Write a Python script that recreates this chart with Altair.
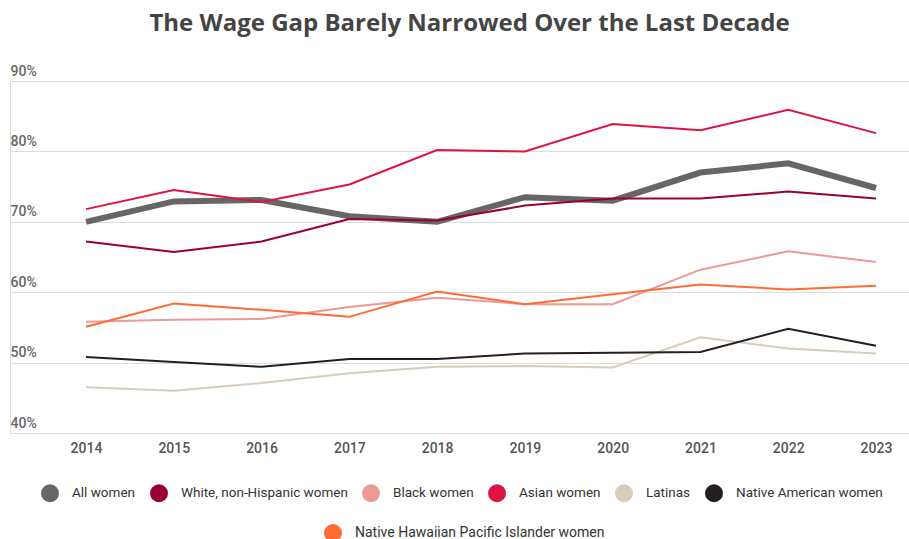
import altair as alt
import pandas as pd

years = list(range(2014, 2024))
all_women = [70.0, 72.9, 73.1, 70.8, 70.0, 73.5, 73.0, 77.0, 78.3, 74.8]
white = [67.2, 65.7, 67.2, 70.4, 70.2, 72.3, 73.3, 73.3, 74.3, 73.3]
black = [55.8, 56.1, 56.2, 57.9, 59.2, 58.3, 58.3, 63.2, 65.8, 64.3]
asian = [71.8, 74.5, 72.8, 75.3, 80.2, 80.0, 83.9, 83.0, 85.9, 82.6]
latinas = [46.5, 46.0, 47.1, 48.5, 49.4, 49.5, 49.3, 53.6, 52.0, 51.3]
native_am = [50.8, 50.1, 49.4, 50.5, 50.5, 51.3, 51.4, 51.5, 54.8, 52.4]
nhpi = [55.1, 58.4, 57.5, 56.5, 60.1, 58.3, 59.7, 61.1, 60.4, 60.9]

main_groups = ["All women", "White, non-Hispanic women", "Black women",
               "Asian women", "Latinas", "Native American women"]
main_colors = ["#666666", "#990033", "#eb9a98", "#dc1446", "#d8cdbd", "#231f20"]
nhpi_name = "Native Hawaiian Pacific Islander women"
nhpi_color = "#ff6b35"
y_ticks = [40, 50, 60, 70, 80, 90]

series = {
    "All women": all_women,
    "White, non-Hispanic women": white,
    "Black women": black,
    "Asian women": asian,
    "Latinas": latinas,
    "Native American women": native_am,
    nhpi_name: nhpi,
}
rows = []
for g, vals in series.items():
    for yr, v in zip(years, vals):
        rows.append({"year": yr, "group": g, "value": v})
df = pd.DataFrame(rows)

x_enc = alt.X("year:Q",
              scale=alt.Scale(domain=[2013.134, 2023.376], nice=False, zero=False),
              axis=alt.Axis(values=years, format="d", title=None, grid=False,
                            domain=False, ticks=False, labelPadding=8,
                            labelFont="Roboto", labelFontSize=14,
                            labelFontWeight=500, labelColor="#555"))
y_enc = alt.Y("value:Q",
              scale=alt.Scale(domain=[40, 90], nice=False, zero=False),
              axis=alt.Axis(values=y_ticks, title=None, domain=False, ticks=False,
                            labelExpr="datum.value + '%'", labelAlign="left",
                            labelBaseline="bottom", labelPadding=0, labelOffset=-3,
                            labelFont="Roboto", labelFontSize=14,
                            labelFontWeight=500, labelColor="#666",
                            gridColor="#dddddd", gridWidth=1))

main_legend = alt.Legend(title=None, orient="none", legendX=31, legendY=403,
                         direction="horizontal", symbolType="circle",
                         symbolSize=81, symbolStrokeWidth=9, symbolOpacity=1,
                         labelOffset=13, columnPadding=0, labelLimit=0,
                         labelFont="Roboto", labelFontSize=13.5, labelColor="#333")
main_color = alt.Color("group:N",
                       scale=alt.Scale(domain=main_groups, range=main_colors),
                       legend=main_legend)

base = alt.Chart(df)
layer_all = base.transform_filter(alt.datum.group == "All women").mark_line(
    strokeWidth=6).encode(x=x_enc, y=y_enc, color=main_color,
                          detail="group:N")
layer_rest = base.transform_filter(
    (alt.datum.group != "All women") & (alt.datum.group != nhpi_name)
).mark_line(strokeWidth=2).encode(x=x_enc, y=y_enc, color=main_color,
                                  detail="group:N")

nhpi_legend = alt.Legend(title=None, orient="none", legendX=314, legendY=443,
                         direction="horizontal", symbolType="circle",
                         symbolSize=81, symbolStrokeWidth=9, symbolOpacity=1,
                         labelOffset=13, labelLimit=0,
                         labelFont="Roboto", labelFontSize=14, labelColor="#333")
layer_nhpi = base.transform_filter(alt.datum.group == nhpi_name).mark_line(
    strokeWidth=2).encode(
    x=x_enc, y=y_enc,
    color=alt.Color("group:N", scale=alt.Scale(domain=[nhpi_name], range=[nhpi_color]),
                    legend=nhpi_legend))

chart = alt.layer(alt.layer(layer_all, layer_rest), layer_nhpi).resolve_scale(
    color="independent"
).properties(
    width=899, height=352,
    autosize=alt.AutoSizeParams(type="none"),
    padding={"left": 10, "top": 81, "right": 0, "bottom": 106},
    title=alt.TitleParams("The Wage Gap Barely Narrowed Over the Last Decade",
                          font="Open Sans", fontSize=24, fontWeight="bold",
                          color="#444444", anchor="middle", offset=28, dx=10),
).configure_view(stroke=None).configure(background="white")

chart.save("out.html", embed_options={"renderer": "svg", "actions": False})
